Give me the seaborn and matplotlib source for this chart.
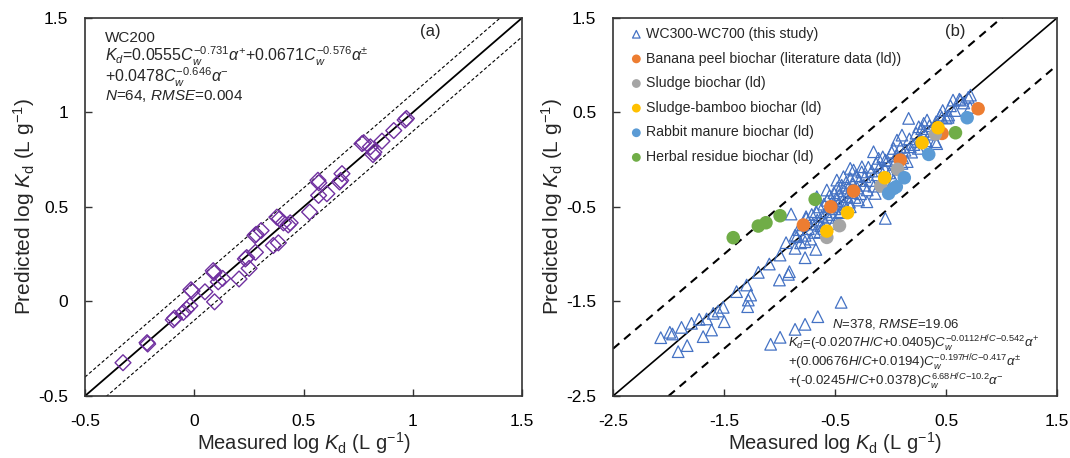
import matplotlib
matplotlib.use("Agg")
import matplotlib.pyplot as plt
import seaborn as sns
import pandas as pd

# ---------------- data ----------------
wc200_measured = [-0.326, -0.216, -0.213, -0.096, -0.09, -0.05, -0.035, -0.02, -0.015, -0.01,
                  0.049, 0.087, 0.09, 0.093, 0.11, 0.13, 0.205, 0.234, 0.24, 0.251,
                  0.28, 0.278, 0.283, 0.306, 0.362, 0.385, 0.378, 0.39, 0.408, 0.43,
                  0.439, 0.528, 0.566, 0.57, 0.569, 0.607, 0.665, 0.67, 0.676, 0.768,
                  0.775, 0.806, 0.818, 0.822, 0.859, 0.913, 0.971, 0.965]
wc200_predicted = [-0.324, -0.218, -0.225, -0.097, -0.088, -0.058, -0.041, -0.023, 0.062, 0.055,
                   0.051, 0.163, 0.152, -0.002, 0.104, 0.122, 0.119, 0.225, 0.232, 0.175,
                   0.26, 0.349, 0.355, 0.375, 0.296, 0.31, 0.446, 0.438, 0.416, 0.405,
                   0.416, 0.473, 0.641, 0.628, 0.561, 0.570, 0.632, 0.64, 0.676, 0.835,
                   0.84, 0.818, 0.777, 0.79, 0.848, 0.904, 0.968, 0.96]

wc_measured = [
    # low tail and outliers
    -2.070, -1.988, -1.964, -1.883, -1.913, -1.832, -1.793, -1.724, -1.688, -1.657,
    -1.612, -1.597, -1.552, -1.507, -1.498, -1.387, -1.296, -1.281, -1.287, -1.260,
    -1.191, -1.092, -1.001, -0.911, -0.920, -0.995, -0.941, -0.860, -0.770, -0.673,
    -0.896, -0.761, -0.445, -0.655, -0.770, -0.860, -0.995, -1.080,
    # upper edge of the main band
    -0.664, -0.574, -0.484, -0.424, -0.363, -0.333, -0.258, -0.153, -0.108, -0.047,
    0.028, 0.058, 0.103, 0.163, 0.254, 0.299, 0.329, 0.449, 0.524, 0.563,
    0.630, 0.720,
    # lower edge of the main band
    -0.845, -0.770, -0.634, -0.604, -0.514, -0.454, -0.363, -0.288, -0.213, -0.138,
    -0.047, 0.028, 0.103, 0.178, 0.269, 0.404,
    0.281, 0.416, 0.461, 0.518, 0.716,
    # body of the main band
    -0.86, -0.83, -0.81, -0.79, -0.77, -0.76, -0.74, -0.72, -0.71, -0.70,
    -0.68, -0.67, -0.66, -0.64, -0.63, -0.62, -0.60, -0.59, -0.58, -0.57,
    -0.56, -0.55, -0.54, -0.53, -0.52, -0.51, -0.50, -0.49, -0.48, -0.47,
    -0.46, -0.45, -0.44, -0.43, -0.42, -0.41, -0.40, -0.39, -0.38, -0.37,
    -0.36, -0.35, -0.34, -0.32, -0.31, -0.30, -0.28, -0.27, -0.26, -0.24,
    -0.23, -0.21, -0.20, -0.18, -0.17, -0.15, -0.13, -0.12, -0.10, -0.08,
    -0.07, -0.05, -0.03, -0.01, 0.01, 0.03, 0.05, 0.07, 0.09, 0.11,
    0.13, 0.15, 0.17, 0.19, 0.21, 0.23, 0.25, 0.27, 0.30, 0.32,
    0.35, 0.38, 0.41, 0.44, 0.47, 0.50, 0.54, 0.58, 0.62, 0.66,
    0.70]
wc_predicted = [
    -1.883, -1.826, -1.844, -1.774, -2.031, -1.967, -1.731, -1.689, -1.872, -1.685,
    -1.802, -1.626, -1.601, -1.562, -1.714, -1.396, -1.326, -1.485, -1.555, -1.432,
    -1.192, -1.104, -1.273, -1.185, -1.213, -1.009, -0.878, -0.938, -1.037, -0.949,
    -0.575, -0.603, -1.509, -1.661, -1.742, -1.795, -1.879, -1.953,
    -0.392, -0.321, -0.216, -0.180, -0.092, -0.110, -0.075, 0.084, 0.014, -0.004,
    0.119, 0.207, 0.260, 0.437, 0.348, 0.384, 0.419, 0.472, 0.472, 0.630,
    0.630, 0.683,
    -0.815, -0.868, -0.762, -0.727, -0.674, -0.550, -0.498, -0.427, -0.445, -0.357,
    -0.621, -0.216, -0.039, 0.137, 0.190, 0.190,
    0.328, 0.170, 0.448, 0.448, 0.553,
    -0.80, -0.74, -0.88, -0.69, -0.80, -0.62, -0.73, -0.84, -0.58, -0.68,
    -0.77, -0.55, -0.64, -0.50, -0.70, -0.60, -0.47, -0.66, -0.55, -0.43,
    -0.61, -0.38, -0.50, -0.58, -0.44, -0.35, -0.52, -0.41, -0.30, -0.47,
    -0.37, -0.56, -0.27, -0.43, -0.33, -0.50, -0.24, -0.39, -0.30, -0.45,
    -0.20, -0.35, -0.26, -0.40, -0.17, -0.30, -0.22, -0.36, -0.13, -0.27,
    -0.18, -0.32, -0.08, -0.22, -0.12, -0.28, -0.04, -0.16, -0.08, -0.22,
    0.03, -0.10, -0.01, -0.14, 0.08, -0.05, 0.04, -0.10, 0.13, 0.02,
    0.10, -0.02, 0.22, 0.08, 0.16, 0.28, 0.12, 0.22, 0.30, 0.20,
    0.36, 0.27, 0.40, 0.33, 0.52, 0.44, 0.57, 0.52, 0.64, 0.60,
    0.66]

banana_measured = [-0.785, -0.538, -0.333, 0.088, 0.464, 0.789]
banana_predicted = [-0.691, -0.498, -0.332, -0.004, 0.278, 0.539]
sludge_measured = [-0.574, -0.460, -0.087, 0.064, 0.404]
sludge_predicted = [-0.822, -0.698, -0.279, -0.102, 0.271]
bamboo_measured = [-0.574, -0.387, -0.053, 0.284, 0.428]
bamboo_predicted = [-0.755, -0.561, -0.191, 0.179, 0.338]
rabbit_measured = [-0.017, 0.028, 0.052, 0.124, 0.344, 0.690]
rabbit_predicted = [-0.357, -0.304, -0.286, -0.191, 0.056, 0.444]
herbal_measured = [-1.417, -1.191, -1.122, -0.995, -0.679, 0.585]
herbal_predicted = [-0.825, -0.702, -0.667, -0.593, -0.420, 0.285]

left_ticks = [-0.5, 0, 0.5, 1, 1.5]
left_ticklabels = ["-0.5", "0", "0.5", "1", "1.5"]
right_ticks = [-2.5, -1.5, -0.5, 0.5, 1.5]
right_ticklabels = ["-2.5", "-1.5", "-0.5", "0.5", "1.5"]

legend_labels = ["WC300-WC700 (this study)", "Banana peel biochar (literature data (ld))",
                 "Sludge biochar (ld)", "Sludge-bamboo biochar (ld)",
                 "Rabbit manure biochar (ld)", "Herbal residue biochar (ld)"]

# ---------------- style ----------------
sns.set_style("ticks")
plt.rcParams['font.family'] = ['Liberation Sans', 'DejaVu Sans']
plt.rcParams['mathtext.fontset'] = 'custom'
plt.rcParams['mathtext.rm'] = 'Liberation Sans'
plt.rcParams['mathtext.it'] = 'Liberation Sans:italic'
plt.rcParams['mathtext.bf'] = 'Liberation Sans:bold'
plt.rcParams['axes.unicode_minus'] = False

fig = plt.figure(figsize=(10.7, 4.58), dpi=100)
axL = fig.add_axes([0.0794, 0.1354, 0.4085, 0.8255])
axR = fig.add_axes([0.5729, 0.1354, 0.4150, 0.8255])

spine_col = '#333333'
for ax in (axL, axR):
    for s in ax.spines.values():
        s.set_visible(True)
        s.set_color(spine_col)
        s.set_linewidth(1.2)
    ax.tick_params(direction='in', length=5, width=1, colors=spine_col,
                   labelcolor='black', labelsize=12.5, top=False, right=False)
    ax.tick_params(axis='x', pad=13)
    ax.tick_params(axis='y', pad=12)

# ---------------- left panel ----------------
dfL = pd.DataFrame({'m': wc200_measured, 'p': wc200_predicted})
lim = [-0.5, 1.5]
axL.plot(lim, lim, color='black', lw=1.3, zorder=1)
axL.plot(lim, [v + 0.1 for v in lim], color='black', lw=0.8, ls=(0, (3, 2)), zorder=1)
axL.plot(lim, [v - 0.1 for v in lim], color='black', lw=0.8, ls=(0, (3, 2)), zorder=1)
sns.scatterplot(data=dfL, x='m', y='p', ax=axL, marker='D', s=65,
                facecolor='none', edgecolor='#7030A0', linewidth=1.0, zorder=3)
axL.set_xlim(lim)
axL.set_ylim(lim)
axL.set_xticks(left_ticks)
axL.set_xticklabels(left_ticklabels)
axL.set_yticks(left_ticks)
axL.set_yticklabels(left_ticklabels)
axL.set_xlabel("Measured log $K_\\mathrm{d}$ (L g$^{-1}$)", fontsize=14.5, labelpad=1)
axL.set_ylabel("Predicted log $K_\\mathrm{d}$ (L g$^{-1}$)", fontsize=15, labelpad=1)
axL.text(0.79, 0.965, "(a)", transform=axL.transAxes, fontsize=12, ha='center', va='center')

tl = dict(transform=axL.transAxes, ha='left', va='baseline')
axL.text(0.046, 0.935, "WC200", fontsize=11, **tl)
axL.text(0.046, 0.886, "$K_d$=0.0555$C_w^{-0.731}\\alpha^{+}$+0.0671$C_w^{-0.576}\\alpha^{\\pm}$",
         fontsize=11.5, **tl)
axL.text(0.046, 0.829, "+0.0478$C_w^{-0.646}\\alpha^{-}$", fontsize=11.5, **tl)
axL.text(0.046, 0.782, "$N$=64, $RMSE$=0.004", fontsize=11, **tl)

# ---------------- right panel ----------------
limR = [-2.5, 1.5]
axR.plot(limR, limR, color='black', lw=1.2, zorder=1)
axR.plot(limR, [v + 0.5 for v in limR], color='black', lw=1.5, ls=(0, (4, 3)), zorder=1)
axR.plot(limR, [v - 0.5 for v in limR], color='black', lw=1.5, ls=(0, (4, 3)), zorder=1)

dfT = pd.DataFrame({'m': wc_measured, 'p': wc_predicted})
sns.scatterplot(data=dfT, x='m', y='p', ax=axR, marker='^', s=70,
                facecolor='none', edgecolor='#4472C4', linewidth=0.9, zorder=3,
                label=legend_labels[0])
groups = [(banana_measured, banana_predicted, '#ED7D31'),
          (sludge_measured, sludge_predicted, '#A5A5A5'),
          (bamboo_measured, bamboo_predicted, '#FFC000'),
          (rabbit_measured, rabbit_predicted, '#5B9BD5'),
          (herbal_measured, herbal_predicted, '#70AD47')]
for (gm, gp, col), lab in zip(groups, legend_labels[1:]):
    sns.scatterplot(x=gm, y=gp, ax=axR, marker='o', s=95, color=col,
                    edgecolor='none', linewidth=0, zorder=4, label=lab)

axR.set_xlim(limR)
axR.set_ylim(limR)
axR.set_xticks(right_ticks)
axR.set_xticklabels(right_ticklabels)
axR.set_yticks(right_ticks)
axR.set_yticklabels(right_ticklabels)
axR.set_xlabel("Measured log $K_\\mathrm{d}$ (L g$^{-1}$)", fontsize=14.5, labelpad=1)
axR.set_ylabel("Predicted log $K_\\mathrm{d}$ (L g$^{-1}$)", fontsize=15, labelpad=1)
axR.text(0.77, 0.965, "(b)", transform=axR.transAxes, fontsize=12, ha='center', va='center')

leg = axR.legend(loc='upper left', bbox_to_anchor=(0.027, 0.991), frameon=False,
                 fontsize=10.2, markerscale=0.65, handlelength=0.8, handletextpad=0.25,
                 labelspacing=0.75, borderaxespad=0, borderpad=0.4)

tr = dict(transform=axR.transAxes, fontsize=9.5, ha='left', va='baseline')
axR.text(0.493, 0.180, "$N$=378, $RMSE$=19.06", **tr)
axR.text(0.394, 0.128, "$K_d$=(-0.0207$H/C$+0.0405)$C_w^{-0.0112H/C{-}0.542}\\alpha^{+}$", **tr)
axR.text(0.394, 0.077, "+(0.00676$H/C$+0.0194)$C_w^{-0.197H/C{-}0.417}\\alpha^{\\pm}$", **tr)
axR.text(0.394, 0.027, "+(-0.0245$H/C$+0.0378)$C_w^{6.68H/C{-}10.2}\\alpha^{-}$", **tr)

fig.savefig("out.png", dpi=100)
